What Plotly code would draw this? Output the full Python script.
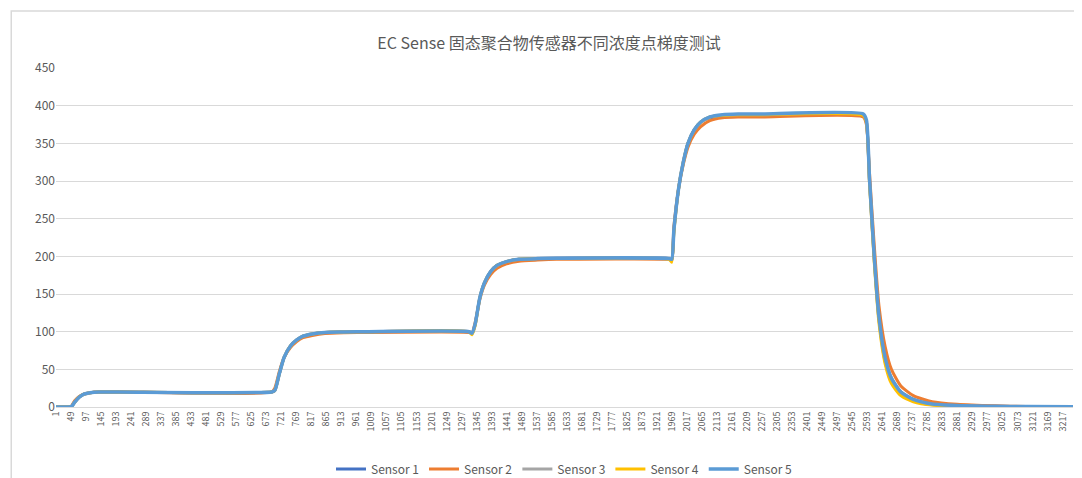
import plotly.graph_objects as go

# sample index (row number in the log)
x_idx = [1, 40, 50, 60, 75, 90, 110, 140, 200, 690, 700, 715, 730, 750, 770, 790, 820, 860, 920, 1000,
         1320, 1330, 1340, 1355, 1370, 1390, 1410, 1440, 1480, 1540, 1600, 1960, 1968, 1975, 1990, 2005,
         2020, 2040, 2060, 2090, 2130, 2180, 2250, 2580, 2590, 2600, 2615, 2630, 2650, 2670, 2700, 2740,
         2800, 2880, 3000, 3100, 3250]

sensor1 = [0, 0, 0.5, 6, 13, 17, 19, 20, 20, 20, 22, 45, 66, 81, 89, 94, 97, 99, 99.5, 100,
           100, 98, 110, 145, 165, 180, 188, 193, 196, 197, 197.5, 197, 195, 235, 290, 325,
           350, 368, 378, 384, 386, 387, 387, 387, 378, 300, 200, 120, 65, 38, 20, 10,
           4, 2, 1, 0.5, 0.3]
sensor2 = [0, 0, 1, 8, 14, 17, 19, 20, 20, 20, 25, 48, 66, 79, 87, 92, 95, 97.5, 98.5, 99,
           99, 98, 112, 143, 162, 176, 184, 190, 193.5, 195, 196, 196, 195, 240, 290, 322,
           345, 362, 372, 380, 384, 385, 385, 385, 375, 310, 215, 135, 80, 50, 28, 15,
           7, 3.5, 1.5, 0.8, 0.5]
sensor3 = [0, 0, 0.5, 6, 13, 17, 19, 20, 20, 20, 22, 45, 66, 81, 89, 94, 97, 99, 99.5, 100,
           100, 97, 109, 145, 165, 180, 188, 193, 196, 197, 197.5, 197, 194, 234, 290, 325,
           350, 368, 378, 385, 387, 388, 388, 388, 378, 298, 196, 116, 60, 34, 17, 8,
           3, 1.5, 0.8, 0.4, 0.2]
sensor4 = [0, 0, 0.5, 6, 13, 17, 19, 20, 20, 20, 22, 45, 66, 81, 89, 94, 97, 99, 99.5, 100,
           100, 96, 108, 145, 165, 180, 188, 193, 196, 197, 197, 196, 192, 232, 290, 325,
           350, 368, 378, 385, 387, 388, 388, 387, 378, 296, 193, 112, 57, 31, 15, 7,
           2.5, 1, 0.5, 0.3, 0.2]
sensor5 = [0, 0, 0.5, 6, 13, 17, 19, 20, 20, 20, 22, 45, 66, 81, 89, 94, 97, 99, 99.5, 100,
           100, 98, 110, 145, 165, 180, 188, 193, 196, 197, 197.5, 197, 196, 235, 290, 325,
           350, 368, 378, 385, 388, 389, 389, 389, 381, 302, 200, 120, 65, 38, 20, 10,
           4, 2, 1, 0.5, 0.3]

names = ["Sensor 1", "Sensor 2", "Sensor 3", "Sensor 4", "Sensor 5"]
colors = ["#4472C4", "#ED7D31", "#A5A5A5", "#FFC000", "#5B9BD5"]
series = [sensor1, sensor2, sensor3, sensor4, sensor5]

tick_vals = list(range(1, 3250, 48))
tick_text = [str(v) for v in tick_vals]

fig = go.Figure()
for name, col, ys in zip(names, colors, series):
    fig.add_trace(go.Scatter(x=x_idx, y=ys, name=name, mode="lines",
                             line=dict(color=col, width=3.5 if name == "Sensor 5" else 3, shape="spline", smoothing=0.6)))

fig.update_layout(
    width=1082, height=478,
    paper_bgcolor="white", plot_bgcolor="white",
    font=dict(family="Noto Sans CJK SC, Open Sans", color="#595959"),
    title=dict(text="EC Sense 固态聚合物传感器不同浓度点梯度测试", x=0.5, y=0.937,
               font=dict(size=16, color="#595959")),
    margin=dict(l=48, r=17, t=60, b=79, autoexpand=False),
    showlegend=True,
    legend=dict(orientation="h", x=0.5, xanchor="center", y=-0.14, yanchor="top",
                font=dict(size=12, color="#595959")),
    shapes=[dict(type="rect", xref="paper", yref="paper", x0=-0.044, x1=1.014, y0=-0.224, y1=1.168,
                 line=dict(color="#D9D9D9", width=1.5))],
)
fig.update_xaxes(range=[1, 3250], tickmode="array", tickvals=tick_vals, ticktext=tick_text,
                 tickangle=-90, tickfont=dict(size=9, color="#595959"), showgrid=False,
                 showline=True, linecolor="#D9D9D9", zeroline=False, automargin=False)
fig.update_yaxes(range=[0, 450], dtick=50, tickfont=dict(size=12, color="#595959"),
                 gridcolor="#D9D9D9", zeroline=False, showline=False, automargin=False)

fig.write_html("out.html")
